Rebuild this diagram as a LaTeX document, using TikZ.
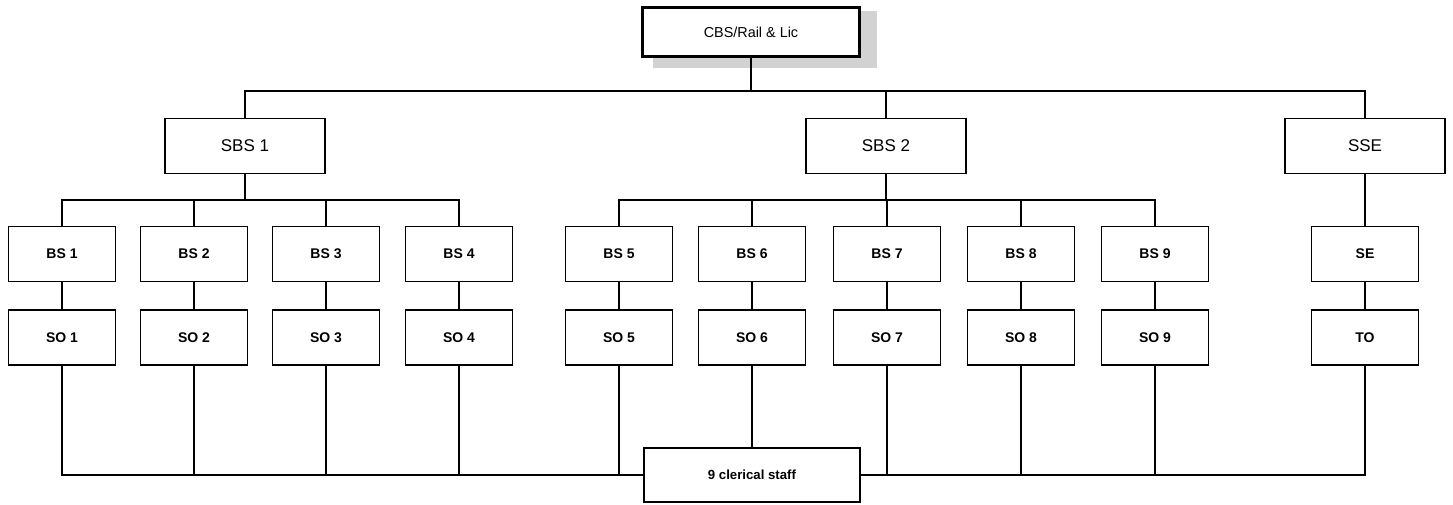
\documentclass[tikz,border=0pt]{standalone}
\usepackage{fontspec}
\setmainfont{Liberation Sans}
\usepackage{tikz}
\usetikzlibrary{positioning}

\tikzset{
  unit/.style={draw, line width=0.9pt, inner sep=0pt, minimum width=53.5pt, minimum height=27.5pt, font=\fontsize{7}{8}\selectfont\bfseries},
  head/.style={draw, line width=0.9pt, inner sep=0pt, minimum width=80pt, minimum height=27.5pt, font=\fontsize{8.5}{10}\selectfont},
  chief/.style={draw, line width=1.8pt, inner sep=0pt, minimum width=108.5pt, minimum height=24.5pt, font=\fontsize{7.2}{9}\selectfont},
  link/.style={line width=0.9pt},
}

\begin{document}
\begin{tikzpicture}[x=0.5pt, y=-0.5pt]
  \useasboundingbox (0,0) rectangle (1453,504);
  % shadow of the top box
  \fill[gray!35] (653,57) rectangle (877,68);
  \fill[gray!35] (860,11) rectangle (877,68);
  \node[chief] (cbs) at (751,32) {CBS/Rail \& Lic};

  \node[head] (sbsA) at (245,146) {SBS 1};
  \node[head] (sbsB) at (886,146) {SBS 2};
  \node[head] (sse) at (1365,146) {SSE};

  \coordinate (topbus) at (751,91);
  \draw[link] (cbs.south) -- (topbus);
  \draw[link] (topbus) -| (sbsA.north);
  \draw[link] (topbus) -| (sbsB.north);
  \draw[link] (topbus) -| (sse.north);

  \foreach \i/\xpos in {1/62,2/194,3/326,4/459,5/619,6/752,7/887,8/1021,9/1155} {
    \node[unit] (bs\i) at (\xpos,254) {BS \i};
    \node[unit, below=13.5pt of bs\i] (so\i) {SO \i};
    \draw[link] (bs\i) -- (so\i);
  }
  \node[unit] (se) at (1365,254) {SE};
  \node[unit, below=13.5pt of se] (to) {TO};
  \draw[link] (sse) -- (se);
  \draw[link] (se) -- (to);

  \coordinate (busA) at (245,200);
  \coordinate (busB) at (886,200);
  \draw[link] (sbsA.south) -- (busA);
  \draw[link] (sbsB.south) -- (busB);
  \foreach \i in {1,...,4} \draw[link] (busA) -| (bs\i.north);
  \foreach \i in {5,...,9} \draw[link] (busB) -| (bs\i.north);

  \node[unit, minimum width=108pt, minimum height=27pt, font=\fontsize{6.6}{8}\selectfont\bfseries] (clerk) at (752,475) {9 clerical staff};
  \foreach \i in {1,...,5} \draw[link] (so\i.south) |- (clerk.west);
  \foreach \i in {7,8,9} \draw[link] (so\i.south) |- (clerk.east);
  \draw[link] (to.south) |- (clerk.east);
  \draw[link] (so6) -- (clerk);
\end{tikzpicture}
\end{document}
